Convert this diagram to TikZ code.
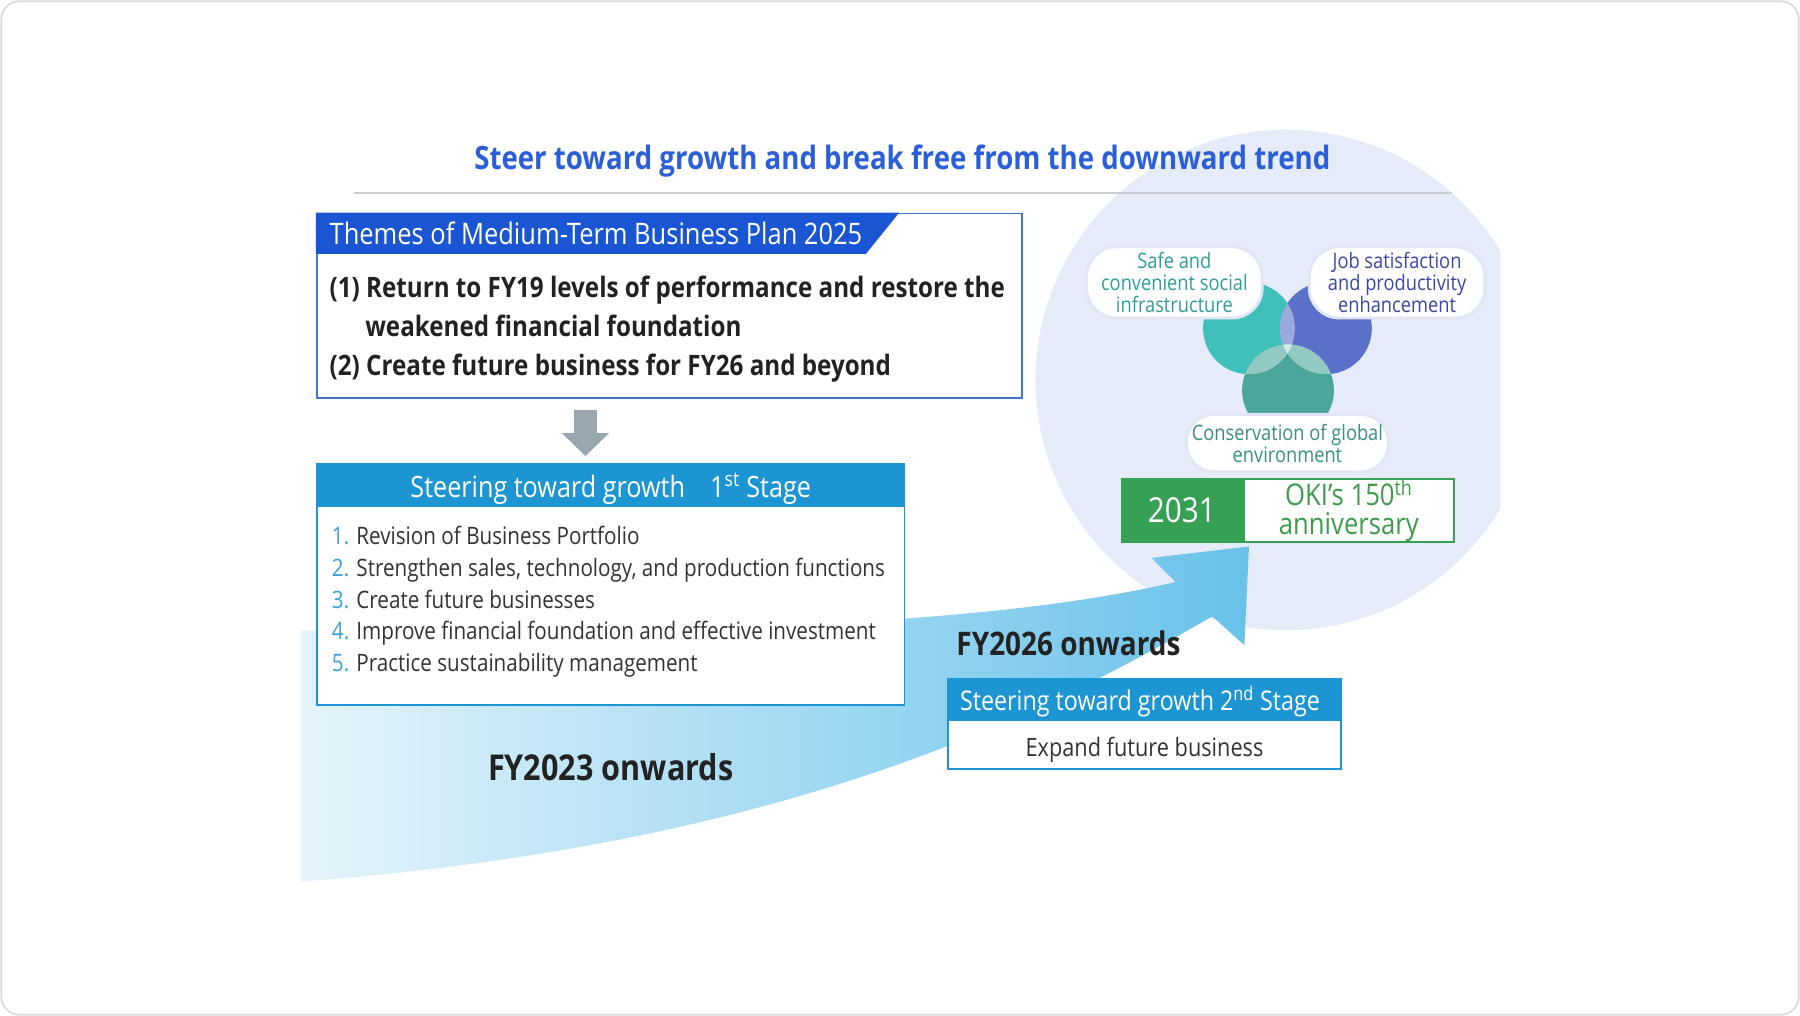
\documentclass[tikz,border=0pt]{standalone}
\usepackage{fontspec}
\setmainfont{Open Sans}[FakeStretch=0.86]
\usetikzlibrary{positioning,arrows.meta}

\definecolor{titleblue}{HTML}{2B5FD9}
\definecolor{rulegray}{HTML}{C9CED3}
\definecolor{haze}{HTML}{E5EBF8}
\definecolor{themeblue}{HTML}{1A55D4}
\definecolor{themeline}{HTML}{4272DD}
\definecolor{stageblue}{HTML}{1D95D3}
\definecolor{numblue}{HTML}{3B9FD9}
\definecolor{inkdark}{HTML}{222222}
\definecolor{inkgray}{HTML}{333333}
\definecolor{arrowgray}{HTML}{98A6AD}
\definecolor{swooshlight}{HTML}{E4F4FB}
\definecolor{swooshdark}{HTML}{69C2EA}
\definecolor{socialteal}{HTML}{40C0BB}
\definecolor{jobindigo}{HTML}{5B70C9}
\definecolor{earthgreen}{HTML}{4AA69A}
\definecolor{socialtext}{HTML}{2F9E9A}
\definecolor{jobtext}{HTML}{3A47A6}
\definecolor{earthtext}{HTML}{3B8F7F}
\definecolor{oki}{HTML}{36A055}
\definecolor{okitext}{HTML}{3D9B4B}
\definecolor{framegray}{HTML}{DADADA}

\newcommand{\sz}[2]{\fontsize{#1}{#2}\selectfont}

\tikzset{
  every node/.style={inner sep=0pt},
  themebox/.style={draw=themeline, line width=1.5pt, fill=white, minimum width=614pt, minimum height=161pt},
  stagebox/.style={draw=stageblue, line width=1.5pt, fill=white},
  headtext/.style={text=white, font=\sz{25.8}{30}},
  aimtext/.style={text=inkdark, font=\sz{24.5}{28}\bfseries},
  listtext/.style={text=inkgray, font=\sz{20.9}{24}},
  venn/.style={circle, minimum size=80pt},
  pill/.style={fill=white, draw=jobindigo!18, line width=2.5pt, align=center, font=\sz{18.5}{19}},
  yearbox/.style={fill=oki, draw=oki, line width=1.5pt, minimum width=105pt, minimum height=55pt, text=white, font=\sz{30}{32}},
  annivbox/.style={fill=white, draw=oki, line width=1.5pt, minimum width=183pt, minimum height=55pt, text=okitext, align=center, font=\sz{26}{25}},
  downarrow/.style={arrowgray, line width=20pt, -{Triangle[width=40pt,length=20pt]}},
}

\begin{document}
\begin{tikzpicture}[x=1pt,y=-1pt]
  \useasboundingbox (0,0) rectangle (1568,885);
  \draw[framegray, line width=1.5pt, rounded corners=16pt] (1,1) rectangle (1567,884);

  % background circle
  \begin{scope}
    \clip (0,0) rectangle (1307,885);
    \fill[haze] (1120,331) circle (218);
  \end{scope}

  \node[text=titleblue, font=\sz{28}{32}\bfseries, anchor=base] (title) at (786,148) {Steer toward growth and break free from the downward trend};
  \draw[rulegray, line width=1.5pt] (308,168) -- (1265,168);

  % swoosh arrow
  \shade[left color=swooshlight, right color=swooshdark]
    (262,549) .. controls (560,552) and (850,548) .. (1024,507)
    -- (1003,486) -- (1088,476) -- (1084,562) -- (1056,537)
    .. controls (920,615) and (700,735) .. (262,768) -- cycle;

  % themes box
  \node[themebox] (themes) at (583,266.5) {};
  \fill[themeblue] (themes.north west) -- ++(508,0) -- ++(-29,36) -- ++(-479,0) -- cycle;
  \node[headtext, anchor=base west] (themeshead) at (287,213) {Themes of Medium-Term Business Plan 2025};
  \node[aimtext, anchor=base west] (aim1) at (287,259) {(1) Return to FY19 levels of performance and restore the};
  \node[aimtext, anchor=base west] (aim1b) at (318,293) {weakened financial foundation};
  \node[aimtext, anchor=base west] (aim2) at (287,327) {(2) Create future business for FY26 and beyond};

  % first stage
  \node[stagebox, minimum width=512pt, minimum height=210pt] (stage1) at (532,509) {};
  \fill[stageblue] (stage1.north west) rectangle ([yshift=-38pt]stage1.north east);
  \node[headtext, font=\sz{25.5}{30}, anchor=base] (stage1head) at (532,433) {Steering toward growth\hspace{22pt}1\textsuperscript{st} Stage};
  \node[listtext, anchor=base west] (plan1) at (289,474) {\textcolor{numblue}{1.} Revision of Business Portfolio};
  \node[listtext, anchor=base west] (plan2) at (289,502) {\textcolor{numblue}{2.} Strengthen sales, technology, and production functions};
  \node[listtext, anchor=base west] (plan3) at (289,530) {\textcolor{numblue}{3.} Create future businesses};
  \node[listtext, anchor=base west] (plan4) at (289,557) {\textcolor{numblue}{4.} Improve financial foundation and effective investment};
  \node[listtext, anchor=base west] (plan5) at (289,585) {\textcolor{numblue}{5.} Practice sustainability management};

  \coordinate (arrowx) at (510,0);
  \draw[downarrow, shorten <=9pt, shorten >=6pt] (themes.south -| arrowx) -- (stage1.north -| arrowx);

  \node[text=inkdark, font=\sz{31}{34}\bfseries, anchor=base] (fy23) at (532,680) {FY2023 onwards};
  \node[text=inkdark, font=\sz{28.3}{31}\bfseries, anchor=base west] (fy26) at (833,571) {FY2026 onwards};

  % second stage
  \node[stagebox, minimum width=342pt, minimum height=79pt] (stage2) at (997,630.5) {};
  \fill[stageblue] (stage2.north west) rectangle ([yshift=-38pt]stage2.north east);
  \node[headtext, font=\sz{23.6}{28}, anchor=base] (stage2head) at (993,619) {Steering toward growth 2\textsuperscript{nd} Stage};
  \node[listtext, font=\sz{22}{26}, anchor=base] (stage2text) at (997,659) {Expand future business};

  % three values
  \node[venn, fill=socialteal] (social) at (1088,286) {};
  \node[venn, fill=jobindigo] (job) at (1155,286) {};
  \node[venn, fill=earthgreen] (earth) at (1122,340) {};
  \begin{scope}
    \clip (social.center) circle (40);
    \fill[white, opacity=.4] (job.center) circle (40);
    \fill[white, opacity=.4] (earth.center) circle (40);
  \end{scope}
  \begin{scope}
    \clip (job.center) circle (40);
    \fill[white, opacity=.4] (earth.center) circle (40);
  \end{scope}
  \node[pill, minimum width=153pt, minimum height=62pt, rounded corners=26pt, text=socialtext] (sociallabel) at (1023,246) {Safe and\\convenient social\\infrastructure};
  \node[pill, minimum width=153pt, minimum height=62pt, rounded corners=26pt, text=jobtext] (joblabel) at (1217,246) {Job satisfaction\\and productivity\\enhancement};
  \node[pill, minimum width=176pt, minimum height=50pt, rounded corners=24pt, text=earthtext] (earthlabel) at (1121.5,386) {Conservation of global\\environment};

  \node[yearbox] (year) at (1029.5,444.5) {2031};
  \node[annivbox, right=0pt of year] (anniv) {OKI’s 150\textsuperscript{th}\\anniversary};
\end{tikzpicture}
\end{document}
